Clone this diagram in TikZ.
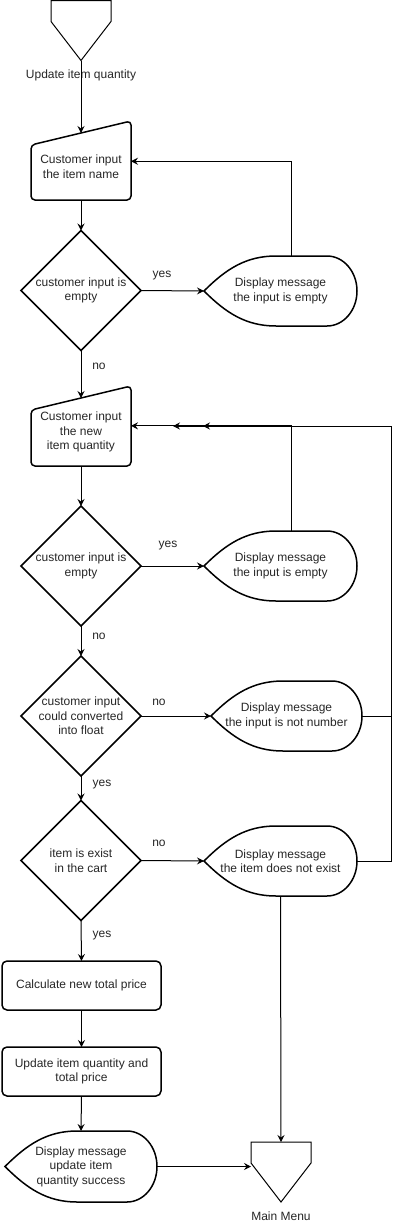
\documentclass[tikz,border=0pt]{standalone}
\usepackage{fontspec}
\setmainfont{Liberation Sans}
\usetikzlibrary{shapes.geometric,calc,arrows.meta}
\tikzset{
shapetext/.style={font=\fontsize{12}{14.5}\selectfont, text=black!85, align=center},
decisionnode/.style={diamond, draw=black!100, fill=none, line width=1.5pt, inner sep=-6pt, outer sep=0pt, minimum size=120pt, shapetext},
processnode/.style={rectangle, rounded corners=5pt, draw=black!100, fill=none, line width=1.5pt, inner sep=0pt, outer sep=0pt, minimum width=159pt, minimum height=49pt, shapetext},
inputnode/.style={rectangle, inner sep=0pt, outer sep=0pt, minimum width=100pt, shapetext},
displaynode/.style={rectangle, inner sep=0pt, outer sep=0pt, minimum height=70pt, shapetext},
offpagenode/.style={rectangle, inner sep=0pt, outer sep=0pt, minimum width=60pt, minimum height=60pt},
labelnode/.style={inner sep=0pt, shapetext},
shapeline/.style={draw=black!100, line width=1.5pt},
connline/.style={draw=black!100, line width=1pt, -{Stealth[length=7pt,width=7pt,inset=2.5pt]}},
}
\newcommand{\inputoutline}[1]{\draw[shapeline, rounded corners=4pt] (#1.south west) -- (#1.south east) -- ($(#1.north east)+(0,12)$) -- ($(#1.north west)+(0,-12)$) -- cycle;}
\newcommand{\dispoutline}[2]{\draw[shapeline] (#1.west) .. controls +(22,22) and ($(#1.north west)+(42,0)$) .. ($(#1.north west)+(72,0)$) -- ($(#1.north east)+(-30,0)$) arc[start angle=90, end angle=-90, x radius=30, y radius=#2] -- ($(#1.south west)+(72,0)$) .. controls ($(#1.south west)+(42,0)$) and +(22,-22) .. (#1.west) -- cycle;}
\newcommand{\offpageoutline}[1]{\draw[draw=black!100, line width=1pt] (#1.north west) -- (#1.north east) -- ($(#1.north east)+(0,-21)$) -- (#1.south) -- ($(#1.north west)+(0,-21)$) -- cycle;}

\begin{document}
\begin{tikzpicture}[x=1pt,y=1pt]
\useasboundingbox (0,0) rectangle (402,-1224);

\node[offpagenode] at (81,-30.5) (start) {};
\node[labelnode] at (81,-75) (startlbl) {Update item quantity};
\node[inputnode, minimum height=67pt] at (81,-166.5) (in1) {Customer input\\the item name};
\node[decisionnode] at (81,-290.5) (d1) {customer input is\\empty};
\node[displaynode, minimum width=153pt] at (280.5,-291) (s1) {Display message\\the input is empty};
\node[inputnode, minimum height=68pt] at (81,-432) (in2) {Customer input\\the new\\item quantity};
\node[decisionnode] at (81,-566) (d2) {customer input is\\empty};
\node[displaynode, minimum width=153pt] at (280.5,-566) (s2) {Display message\\the input is empty};
\node[decisionnode] at (81,-716) (d3) {customer input\\could converted\\into float};
\node[displaynode, minimum width=151pt] at (286.5,-716) (s3) {Display message\\the input is not number};
\node[decisionnode] at (81,-860.5) (d4) {item is exist\\in the cart};
\node[displaynode, minimum width=153pt] at (280.5,-861) (s4) {Display message\\the item does not exist};
\node[processnode] at (81.5,-985.5) (r1) {Calculate new total price};
\node[processnode] at (81.5,-1071.5) (r2) {Update item quantity and\\total price};
\node[displaynode, minimum width=152pt, minimum height=71pt] at (81,-1166.5) (s5) {Display message\\update item\\quantity success};
\node[offpagenode] at (281,-1172) (mm) {};
\node[labelnode] at (281,-1216) (mmlbl) {Main Menu};

\offpageoutline{start}
\offpageoutline{mm}
\inputoutline{in1}
\inputoutline{in2}
\dispoutline{s1}{35}
\dispoutline{s2}{35}
\dispoutline{s3}{35}
\dispoutline{s4}{35}
\dispoutline{s5}{35.5}

\node[labelnode] at (162,-276) (y1) {yes};
\node[labelnode] at (99,-366) (n1) {no};
\node[labelnode] at (168,-546) (y2) {yes};
\node[labelnode] at (99,-636) (n2) {no};
\node[labelnode] at (159,-702) (n3) {no};
\node[labelnode] at (102,-785) (y3) {yes};
\node[labelnode] at (159,-843) (n4) {no};
\node[labelnode] at (102,-936) (y4) {yes};

\coordinate (fbr) at (391,-426);
\coordinate (m1) at (203,-426);
\coordinate (m2) at (173,-426);

\draw[connline] (start.south) -- (in1.north);
\draw[connline] (in1.south) -- (d1.north);
\draw[connline] (d1.east) -- (s1.west);
\draw[connline] (s1.north) ++(11,0) |- (in1.6);
\draw[connline] (d1.south) -- (in2.north);
\draw[connline] (in2.south) -- (d2.north);
\draw[connline] (d2.east) -- (s2.west);
\draw[connline] (s2.north) ++(11,0) |- (in2.7);
\draw[connline] (d2.south) -- (d3.north);
\draw[connline] (d3.east) -- (s3.west);
\draw[connline] (s3.east) -| (fbr) -- (m1);
\draw[connline] (d3.south) -- (d4.north);
\draw[connline] (d4.east) -- (s4.west);
\draw[connline] (s4.east) -| (fbr) -- (m2);
\draw[connline] (d4.south) -- (r1.north);
\draw[connline] (r1.south) -- (r2.north);
\draw[connline] (r2.south) -- (s5.north);
\draw[connline] (s4.south) -- (mm.north);
\draw[connline] (s5.east) -- (s5.east -| mm.west);

\end{tikzpicture}
\end{document}
